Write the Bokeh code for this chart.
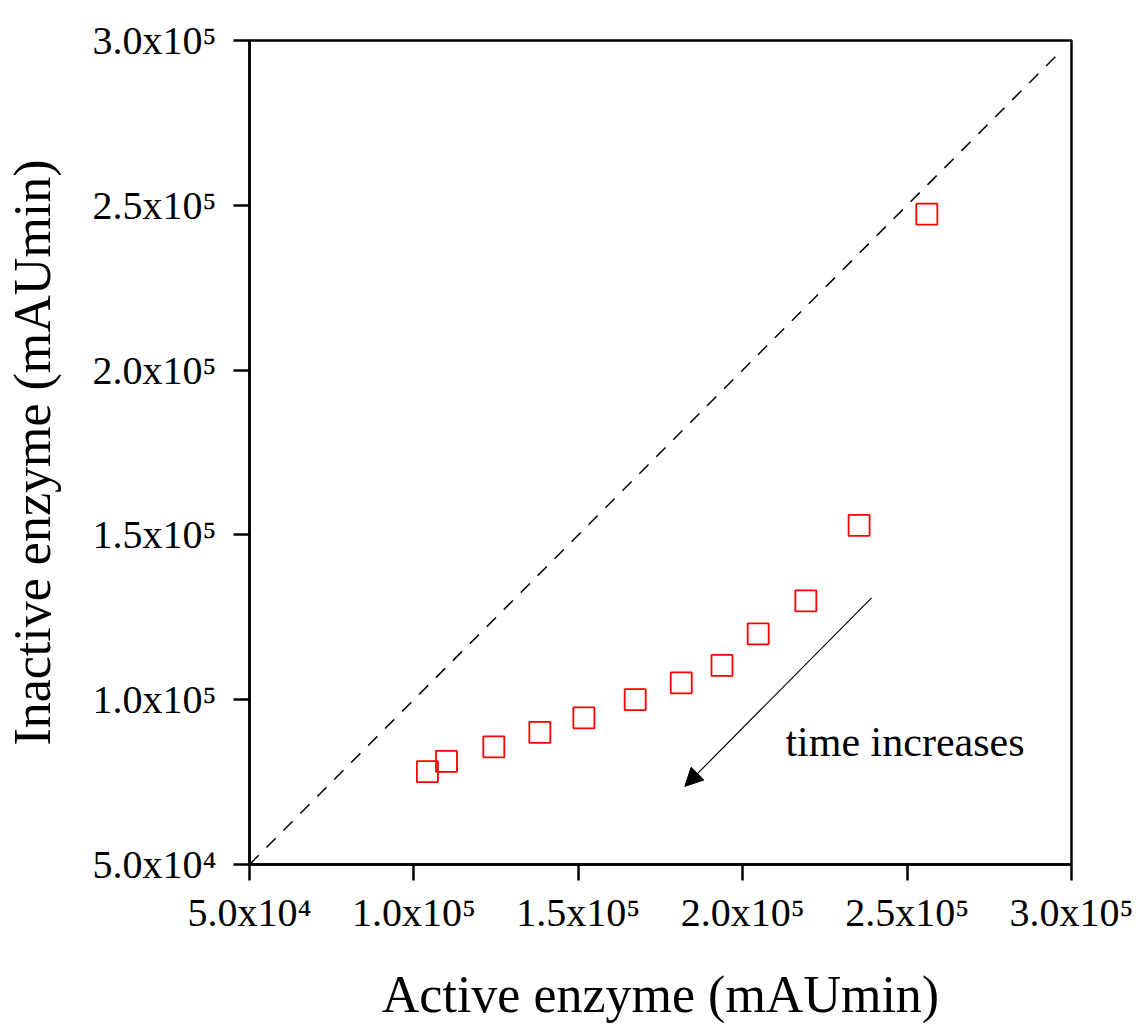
from bokeh.plotting import figure
from bokeh.models import Range1d, FixedTicker, Arrow, NormalHead, Label
from bokeh.embed import file_html
from bokeh.resources import INLINE

# Data
active = [104100, 109900, 124300, 138300, 151700, 167300, 181300, 193700, 204700, 219200, 235400, 256000]
inactive = [78200, 81300, 85700, 90100, 94500, 100000, 105100, 110400, 120000, 130000, 152900, 247300]
diag_x = [50000, 296000]
diag_y = [50000, 296000]
tick_values = [50000, 100000, 150000, 200000, 250000, 300000]
tick_labels = ["5.0x10\u2074", "1.0x10\u2075", "1.5x10\u2075", "2.0x10\u2075", "2.5x10\u2075", "3.0x10\u2075"]

FONT = "Liberation Serif"

p = figure(frame_width=822, frame_height=824,
           x_range=Range1d(50000, 300000), y_range=Range1d(50000, 300000),
           output_backend="svg", toolbar_location=None,
           min_border_left=200, min_border_top=40, min_border_right=62, min_border_bottom=150,
           background_fill_color="white", border_fill_color="white")

p.grid.visible = False
p.outline_line_color = "black"
p.outline_line_width = 2.5

for ax in (p.xaxis[0], p.yaxis[0]):
    ax.ticker = FixedTicker(ticks=tick_values)
    ax.major_label_overrides = dict(zip(tick_values, tick_labels))
    ax.axis_line_width = 2.5
    ax.axis_line_color = "black"
    ax.major_tick_line_width = 2.5
    ax.major_tick_line_color = "black"
    ax.major_tick_out = 16
    ax.major_tick_in = 0
    ax.minor_tick_line_color = None
    ax.major_label_text_font = FONT
    ax.major_label_text_font_size = "40px"
    ax.major_label_text_color = "black"
    ax.axis_label_text_font = FONT
    ax.axis_label_text_font_size = "52px"
    ax.axis_label_text_font_style = "normal"
    ax.axis_label_text_color = "black"

p.xaxis.axis_label = "Active enzyme (mAUmin)"
p.yaxis.axis_label = "Inactive enzyme (mAUmin)"
p.xaxis.major_label_standoff = 9
p.yaxis.major_label_standoff = 17
p.xaxis.axis_label_standoff = 28
p.yaxis.axis_label_standoff = 29

# y = x reference line
p.line(diag_x, diag_y, line_color="black", line_width=1.5, line_dash="13 11")

# data points
p.scatter(active, inactive, marker="square", size=21, fill_color=None,
          line_color="#ff0000", line_width=1.8)

# arrow annotation
p.add_layout(Arrow(end=NormalHead(size=18, fill_color="black", line_color="black"),
                   x_start=239200, y_start=130900, x_end=182400, y_end=73700,
                   line_color="black", line_width=1.2))
p.add_layout(Label(x=213000, y=87300, text="time increases", text_font=FONT,
                   text_font_size="42px", text_color="black", text_baseline="alphabetic"))

open("out.html", "w").write(file_html(p, INLINE))
